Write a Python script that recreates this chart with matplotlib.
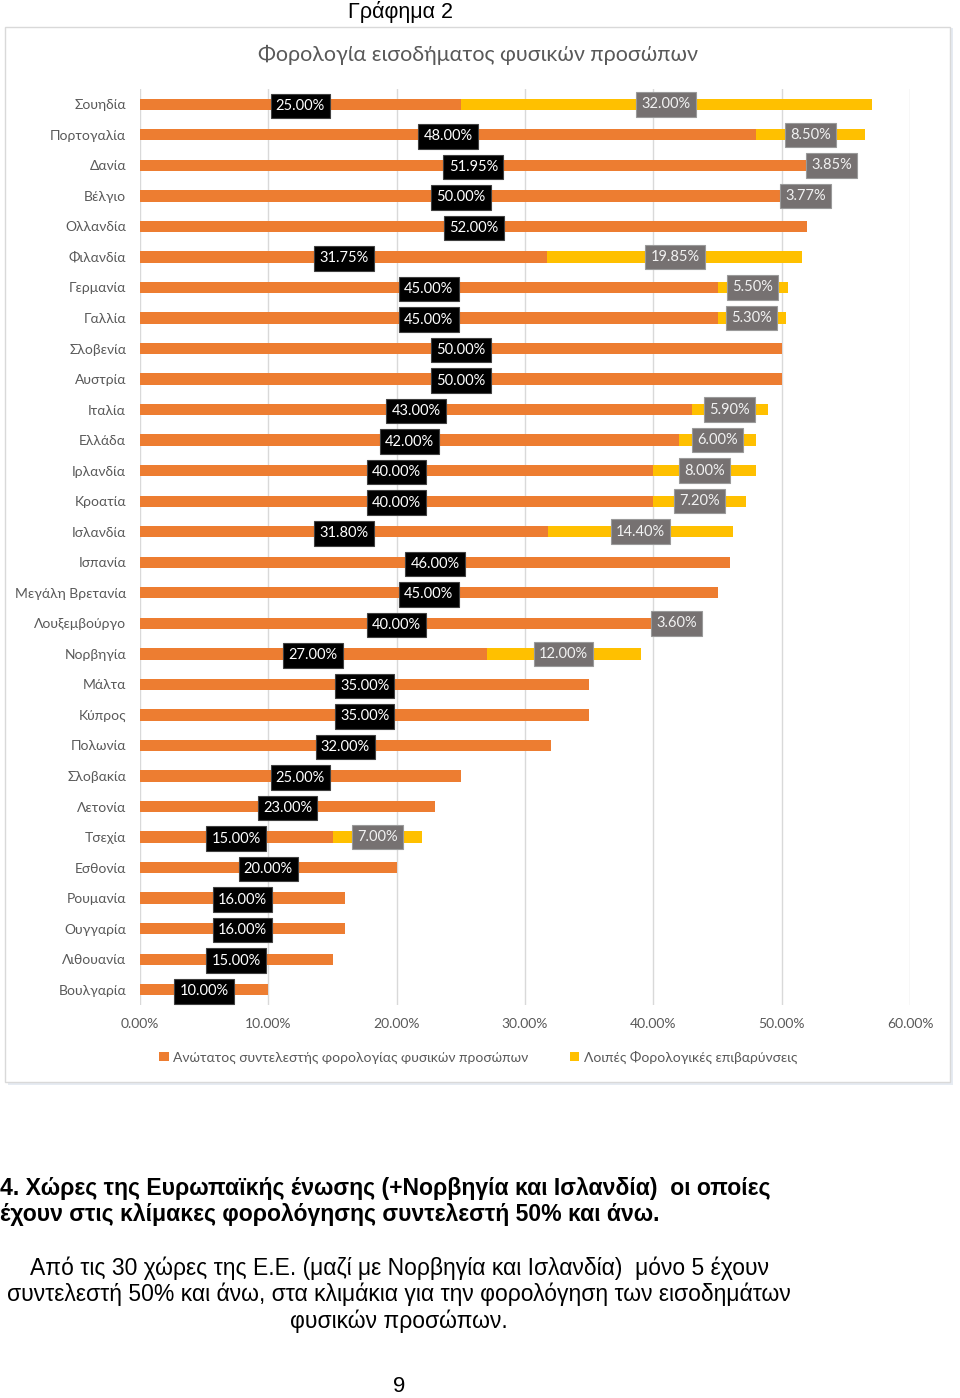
import numpy as np
import matplotlib.pyplot as plt
from matplotlib.patches import Rectangle, Patch

# Data (top to bottom)
countries = ["Σουηδία", "Πορτογαλία", "Δανία", "Βέλγιο", "Ολλανδία", "Φιλανδία",
             "Γερμανία", "Γαλλία", "Σλοβενία", "Αυστρία", "Ιταλία", "Ελλάδα",
             "Ιρλανδία", "Κροατία", "Ισλανδία", "Ισπανία", "Μεγάλη Βρετανία",
             "Λουξεμβούργο", "Νορβηγία", "Μάλτα", "Κύπρος", "Πολωνία", "Σλοβακία",
             "Λετονία", "Τσεχία", "Εσθονία", "Ρουμανία", "Ουγγαρία", "Λιθουανία",
             "Βουλγαρία"]
top_rate = [25.00, 48.00, 51.95, 50.00, 52.00, 31.75, 45.00, 45.00, 50.00, 50.00,
            43.00, 42.00, 40.00, 40.00, 31.80, 46.00, 45.00, 40.00, 27.00, 35.00,
            35.00, 32.00, 25.00, 23.00, 15.00, 20.00, 16.00, 16.00, 15.00, 10.00]
other_tax = [32.00, 8.50, 3.85, 3.77, 0, 19.85, 5.50, 5.30, 0, 0,
             5.90, 6.00, 8.00, 7.20, 14.40, 0, 0, 3.60, 12.00, 0,
             0, 0, 0, 0, 7.00, 0, 0, 0, 0, 0]
xticks = [0, 10, 20, 30, 40, 50, 60]

ORANGE = "#ED7D31"
YELLOW = "#FFC000"
GRAYTXT = "#595959"
FONT = ["Lato", "DejaVu Sans"]

W, H = 960, 1398
fig = plt.figure(figsize=(W / 100, H / 100), dpi=100)

# chart frame
fig.patches.append(Rectangle((8 / W, 1 - 1085 / H), 945 / W, 1057 / H,
                             transform=fig.transFigure, facecolor="#e6ebf2",
                             edgecolor="none", zorder=0))
fig.patches.append(Rectangle((5 / W, 1 - 1082 / H), 945 / W, 1055 / H,
                             transform=fig.transFigure, facecolor="white",
                             edgecolor="#d9d9d9", linewidth=1, zorder=1))

ax = fig.add_axes([140 / W, 1 - 1005 / H, 770 / W, 916 / H])
ax.set_zorder(2)
ax.patch.set_alpha(0)

y = np.arange(len(countries))
ax.barh(y, top_rate, height=0.37, color=ORANGE, zorder=2)
ax.barh(y, other_tax, left=top_rate, height=0.37, color=YELLOW, zorder=2)

for i in range(len(countries)):
    ax.text(top_rate[i] / 2, y[i] + 0.05, f"{top_rate[i]:.2f}%", ha="center", va="center",
            color="white", fontsize=10.5, family=FONT, zorder=4,
            bbox=dict(boxstyle="square,pad=0.36", facecolor="black", edgecolor="#404040", linewidth=0.8))
    if other_tax[i] > 0:
        ax.text(top_rate[i] + other_tax[i] / 2, y[i], f"{other_tax[i]:.2f}%", ha="center",
                va="center", color="#f2f2f2", fontsize=10.5, family=FONT, zorder=4,
                bbox=dict(boxstyle="square,pad=0.36", facecolor="#767171", edgecolor="#9a9a9a", linewidth=0.8))

ax.set_xlim(0, 60)
ax.set_ylim(len(countries) - 0.5, -0.5)
ax.set_xticks(xticks)
ax.set_xticklabels([f"{t:.2f}%" for t in xticks], family=FONT, fontsize=10, color=GRAYTXT)
ax.set_yticks(y)
ax.set_yticklabels(countries, family=FONT, fontsize=10, color=GRAYTXT)
ax.tick_params(length=0, pad=10)
ax.tick_params(axis="x", pad=9)
ax.grid(axis="x", color="#d9d9d9", linewidth=1, zorder=1)
ax.set_axisbelow(True)
for s in ax.spines.values():
    s.set_visible(False)

handles = [Patch(facecolor=ORANGE), Patch(facecolor=YELLOW)]
fig.legend(handles, ["Ανώτατος συντελεστής φορολογίας φυσικών προσώπων",
                     "Λοιπές Φορολογικές επιβαρύνσεις"],
           loc="center", bbox_to_anchor=(478 / W, 1 - 1057 / H), ncol=2, frameon=False,
           prop={"family": FONT, "size": 10}, labelcolor=GRAYTXT, handlelength=0.7,
           handleheight=0.7, handletextpad=0.3, columnspacing=3.0)

fig.text(400 / W, 1 - 12 / H, "Γράφημα 2", ha="center", va="center", fontsize=15.5,
         family="Liberation Sans")
fig.text(478 / W, 1 - 55 / H, "Φορολογία εισοδήματος φυσικών προσώπων", ha="center",
         va="center", fontsize=15.5, family=FONT, color=GRAYTXT)

fig.text(0, 1 - 1188 / H, "4. Χώρες της Ευρωπαϊκής ένωσης (+Νορβηγία και Ισλανδία)  οι οποίες",
         ha="left", va="center", fontsize=16.6, fontweight="bold", family="Liberation Sans")
fig.text(0, 1 - 1215 / H, "έχουν στις κλίμακες φορολόγησης συντελεστή 50% και άνω.",
         ha="left", va="center", fontsize=16.6, fontweight="bold", family="Liberation Sans")
body = ["Από τις 30 χώρες της Ε.Ε. (μαζί με Νορβηγία και Ισλανδία)  μόνο 5 έχουν",
        "συντελεστή 50% και άνω, στα κλιμάκια για την φορολόγηση των εισοδημάτων",
        "φυσικών προσώπων."]
for k, line in enumerate(body):
    fig.text(399 / W, 1 - (1268 + 26.5 * k) / H, line, ha="center", va="center",
             fontsize=16.5, family="Liberation Sans")
fig.text(399 / W, 1 - 1387 / H, "9", ha="center", va="center", fontsize=16,
         family="Liberation Sans")

fig.savefig("out.png", dpi=100)
